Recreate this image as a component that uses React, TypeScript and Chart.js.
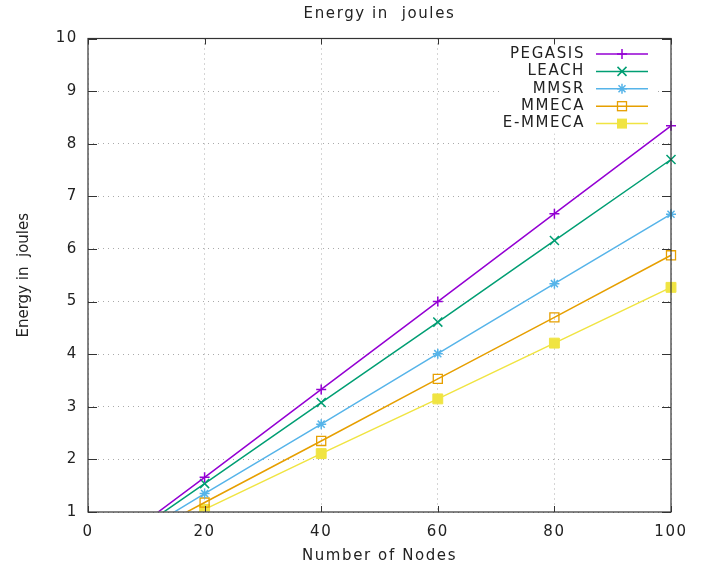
import React, { useEffect, useRef } from 'react';
import { Chart, registerables } from 'chart.js';

Chart.register(...registerables);

// ---- data ----
const nodes = [0, 20, 40, 60, 80, 100];
const seriesNames = ['PEGASIS', 'LEACH', 'MMSR', 'MMECA', 'E-MMECA'];
const pegasis = [0, 1.66, 3.33, 5.0, 6.67, 8.34];
const leach = [0, 1.54, 3.08, 4.61, 6.16, 7.7];
const mmsr = [0, 1.35, 2.67, 4.01, 5.34, 6.66];
const mmeca = [0, 1.18, 2.35, 3.53, 4.7, 5.88];
const emmeca = [0, 1.05, 2.11, 3.15, 4.21, 5.27];
const seriesValues = [pegasis, leach, mmsr, mmeca, emmeca];
const xMin = 0;
const xMax = 100;
const xStep = 20;
const yMin = 1;
const yMax = 10;
const yStep = 1;
const chartTitle = 'Energy in  joules';
const xAxisTitle = 'Number of Nodes';
const yAxisTitle = 'Energy in  joules';

// ---- styles ----
const colors = ['#9400d3', '#009e73', '#56b4e9', '#e69f00', '#f0e442'];
const markers = ['cross', 'crossRot', 'star', 'rectOpen', 'rectFilled'];
const FONT = '"DejaVu Sans", sans-serif';
const TEXT = '#222222';
const SPACING = '1.6px';

function drawMarker(ctx: CanvasRenderingContext2D, type: string, x: number, y: number, color: string) {
  ctx.save();
  ctx.strokeStyle = color;
  ctx.fillStyle = color;
  ctx.lineWidth = 1.5;
  ctx.beginPath();
  if (type === 'cross' || type === 'star') {
    ctx.moveTo(x - 5, y); ctx.lineTo(x + 5, y);
    ctx.moveTo(x, y - 5); ctx.lineTo(x, y + 5);
  }
  if (type === 'crossRot' || type === 'star') {
    const o = type === 'star' ? 3.5 : 4.5;
    ctx.moveTo(x - o, y - o); ctx.lineTo(x + o, y + o);
    ctx.moveTo(x - o, y + o); ctx.lineTo(x + o, y - o);
  }
  ctx.stroke();
  if (type === 'rectOpen') {
    ctx.lineWidth = 1.3;
    ctx.strokeRect(x - 4.5, y - 4.5, 9, 9);
  }
  if (type === 'rectFilled') {
    ctx.fillRect(x - 5, y - 5, 10, 10);
  }
  ctx.restore();
}

const decorPlugin = {
  id: 'gnuplotDecor',
  beforeLayout(chart: any) {
    (chart.ctx as any).letterSpacing = SPACING;
  },
  beforeDraw(chart: any) {
    (chart.ctx as any).letterSpacing = SPACING;
  },
  beforeDatasetsDraw(chart: any) {
    const { ctx, chartArea } = chart;
    ctx.save();
    ctx.fillStyle = '#ffffff';
    ctx.fillRect(chartArea.right - 168, chartArea.top + 1, 153, 94);
    ctx.restore();
  },
  afterDraw(chart: any) {
    const { ctx, chartArea, scales } = chart;
    const { left, right, top, bottom } = chartArea;
    ctx.save();
    // border
    ctx.strokeStyle = '#333333';
    ctx.lineWidth = 1.2;
    ctx.strokeRect(left, top, right - left, bottom - top);
    // inward ticks
    ctx.lineWidth = 1;
    ctx.beginPath();
    scales.y.ticks.forEach((t: any) => {
      const py = Math.round(scales.y.getPixelForValue(t.value)) + 0.5;
      ctx.moveTo(left, py); ctx.lineTo(left + 9, py);
      ctx.moveTo(right, py); ctx.lineTo(right - 9, py);
    });
    scales.x.ticks.forEach((t: any) => {
      const px = Math.round(scales.x.getPixelForValue(t.value)) + 0.5;
      ctx.moveTo(px, bottom); ctx.lineTo(px, bottom - 6);
      ctx.moveTo(px, top); ctx.lineTo(px, top + 6);
    });
    ctx.stroke();

    // y axis title (vertical, no letter spacing)
    (ctx as any).letterSpacing = '0px';
    ctx.fillStyle = TEXT;
    ctx.font = `15px ${FONT}`;
    ctx.textAlign = 'center';
    ctx.textBaseline = 'middle';
    ctx.translate(24, (top + bottom) / 2);
    ctx.rotate(-Math.PI / 2);
    ctx.fillText(yAxisTitle, 0, 0);
    ctx.setTransform(1, 0, 0, 1, 0, 0);

    // legend
    (ctx as any).letterSpacing = SPACING;
    ctx.font = `15px ${FONT}`;
    ctx.textAlign = 'right';
    ctx.textBaseline = 'middle';
    seriesNames.forEach((name, i) => {
      const y = top + 15.5 + i * 17.4;
      ctx.fillStyle = TEXT;
      ctx.fillText(name, right - 86, y);
      ctx.strokeStyle = colors[i];
      ctx.lineWidth = 1.5;
      ctx.beginPath();
      ctx.moveTo(right - 75, y);
      ctx.lineTo(right - 23, y);
      ctx.stroke();
      drawMarker(ctx, markers[i], right - 49, y, colors[i]);
    });
    ctx.restore();
  },
};

export default function App() {
  const ref = useRef<HTMLCanvasElement | null>(null);

  useEffect(() => {
    if (!ref.current) return;
    const datasets = seriesNames.map((name, i) => {
      const m = markers[i];
      const style = m === 'cross' ? 'cross' : m === 'crossRot' ? 'crossRot' : m === 'star' ? 'star' : 'rect';
      const radius = m === 'cross' ? 5 : m === 'crossRot' ? 6.4 : m === 'star' ? 5 : m === 'rectOpen' ? 6.4 : 7;
      return {
        label: name,
        data: nodes.map((n, j) => ({ x: n, y: seriesValues[i][j] })),
        borderColor: colors[i],
        backgroundColor: colors[i],
        borderWidth: 1.5,
        tension: 0,
        pointStyle: style,
        pointRadius: radius,
        pointHoverRadius: radius,
        pointBorderColor: colors[i],
        pointBackgroundColor: m === 'rectOpen' ? 'rgba(0,0,0,0)' : colors[i],
        pointBorderWidth: m === 'rectFilled' ? 1 : m === 'rectOpen' ? 1.3 : 1.5,
        clip: { left: 0, top: 10, right: 12, bottom: -0.6 },
        fill: false,
      };
    });

    const chart = new Chart(ref.current, {
      type: 'line',
      data: { datasets } as any,
      options: {
        animation: false,
        responsive: false,
        devicePixelRatio: 1,
        layout: { padding: { left: 0, right: 35, top: 0, bottom: 0 } },
        plugins: {
          legend: { display: false },
          tooltip: { enabled: false },
          title: {
            display: true,
            text: chartTitle,
            fullSize: false,
            color: TEXT,
            font: { family: FONT, size: 15, weight: 'normal' },
            padding: { top: 4.8, bottom: 15.7 },
          },
        },
        scales: {
          x: {
            type: 'linear',
            min: xMin,
            max: xMax,
            afterFit: (s: any) => { s.height = 54; },
            ticks: {
              stepSize: xStep,
              color: TEXT,
              padding: 11,
              font: { family: FONT, size: 15 },
              maxRotation: 0,
            },
            grid: { color: '#aaaaaa', lineWidth: 1, drawTicks: false },
            border: { display: false, dash: [1, 4] },
            title: {
              display: true,
              text: xAxisTitle,
              color: TEXT,
              font: { family: FONT, size: 15 },
              padding: { top: 0, bottom: 0.5 },
            },
          },
          y: {
            type: 'linear',
            min: yMin,
            max: yMax,
            afterFit: (s: any) => { s.width = 88; },
            ticks: {
              stepSize: yStep,
              color: TEXT,
              padding: 10,
              font: { family: FONT, size: 15 },
            },
            grid: { color: '#aaaaaa', lineWidth: 1, drawTicks: false },
            border: { display: false, dash: [1, 4] },
            title: { display: false },
          },
        },
      } as any,
      plugins: [decorPlugin],
    });
    return () => chart.destroy();
  }, []);

  return (
    <div style={{ position: 'fixed', left: 0, top: 0, width: 706, height: 566, background: '#ffffff' }}>
      <canvas ref={ref} width={706} height={566} style={{ display: 'block' }} />
    </div>
  );
}
